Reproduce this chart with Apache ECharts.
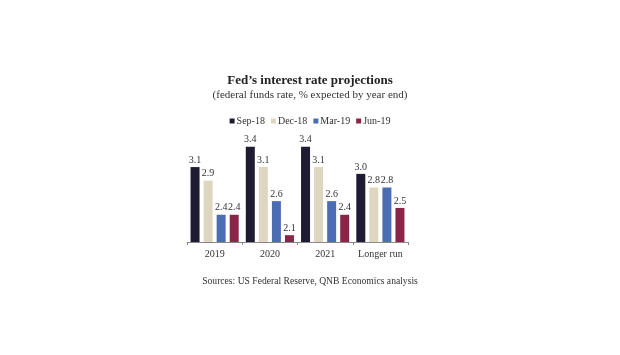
<!DOCTYPE html>
<html><head><meta charset="utf-8">
<script src="https://cdn.jsdelivr.net/npm/echarts@6/dist/echarts.min.js"></script>
<style>html,body{margin:0;padding:0;background:#fff}#c{width:620px;height:355px}</style>
</head><body><div id="c"></div>
<script>
const categories = ['2019', '2020', '2021', 'Longer run'];
const seriesNames = ['Sep-18', 'Dec-18', 'Mar-19', 'Jun-19'];
const sep18 = [3.1, 3.4, 3.4, 3.0];
const dec18 = [2.9, 3.1, 3.1, 2.8];
const mar19 = [2.4, 2.6, 2.6, 2.8];
const jun19 = [2.4, 2.1, 2.4, 2.5];
const colors = ['#1f1b33', '#ddd6c0', '#4a6db3', '#8a2448'];
const font = '"Liberation Serif", "DejaVu Serif", serif';
const values = [sep18, dec18, mar19, jun19];
const chart = echarts.init(document.getElementById('c'), null, {renderer: 'canvas'});
chart.setOption({
  animation: false,
  backgroundColor: '#fff',
  title: [
    {text: 'Fed\u2019s interest rate projections', left: 'center', top: 69,
     textStyle: {fontFamily: font, fontSize: 13, fontWeight: 'bold', color: '#222'}},
    {text: '(federal funds rate, % expected by year end)', left: 'center', top: 85,
     textStyle: {fontFamily: font, fontSize: 11, fontWeight: 'normal', color: '#333'}},
    {text: 'Sources: US Federal Reserve, QNB Economics analysis', left: 'center', top: 271,
     textStyle: {fontFamily: font, fontSize: 9.6, fontWeight: 'normal', color: '#333'}}
  ],
  legend: {
    data: seriesNames, top: 111, left: 'center', itemWidth: 5, itemHeight: 5, itemGap: 6,
    icon: 'rect',
    textStyle: {fontFamily: font, fontSize: 10, color: '#333', padding: [0,0,0,-3]}
  },
  grid: {left: 187, width: 221, top: 133, height: 109},
  xAxis: {
    type: 'category', data: categories,
    axisLine: {lineStyle: {color: '#888', width: 1}},
    axisTick: {show: true, length: 3, lineStyle: {color: '#888'}},
    axisLabel: {interval: 0, fontFamily: font, fontSize: 10, color: '#333', margin: 7}
  },
  yAxis: {type: 'value', min: 2.0, max: 3.6, show: false, splitLine: {show: false}},
  series: seriesNames.map((n, i) => ({
    name: n, type: 'bar', data: values[i], barWidth: 9, barGap: '45%',
    itemStyle: {color: colors[i]},
    label: {show: true, position: 'top', distance: 2, formatter: p => p.value.toFixed(1),
      fontFamily: font, fontSize: 10, color: '#333'}
  }))
});
</script></body></html>
